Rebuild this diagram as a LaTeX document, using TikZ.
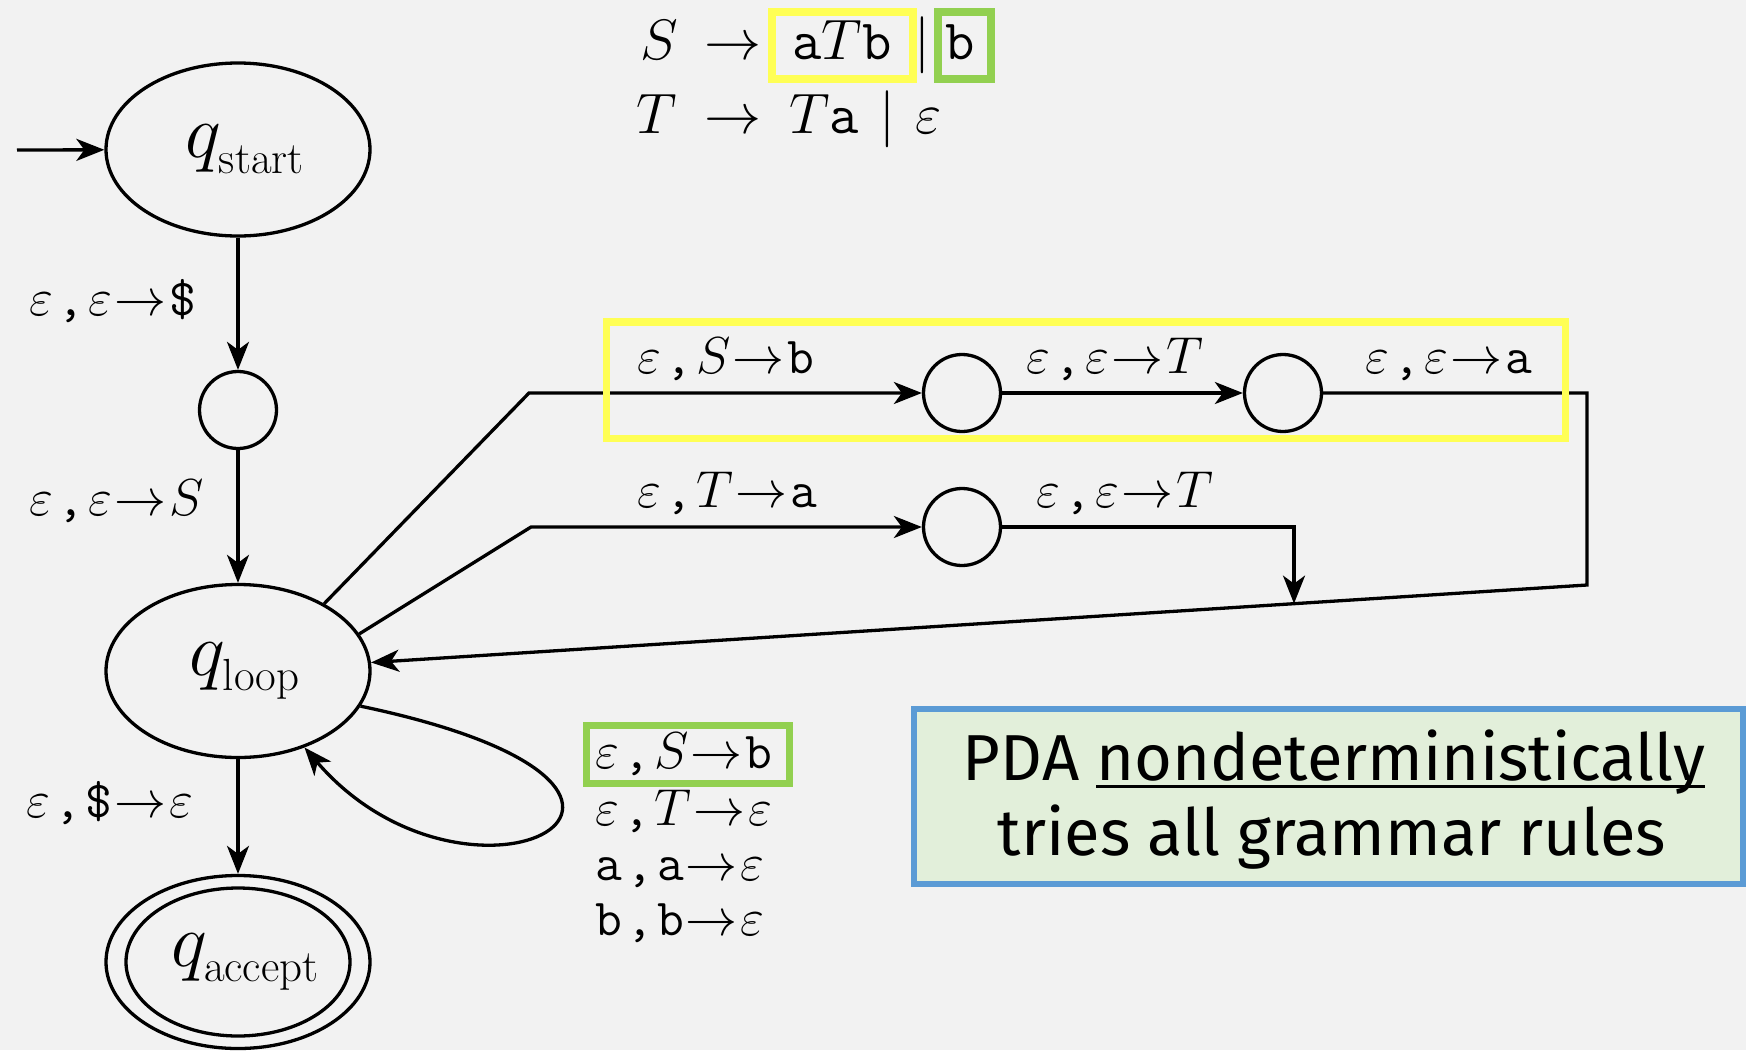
\RequirePackage{fix-cm}
\documentclass[tikz,border=0pt]{standalone}
\usepackage{fontspec}
\usetikzlibrary{arrows.meta,shapes.geometric}
\newfontfamily\notefont{Fira Sans}
\definecolor{bg}{RGB}{242,242,242}
\definecolor{hlyellow}{RGB}{255,255,85}
\definecolor{hlgreen}{RGB}{146,208,80}
\definecolor{noteblue}{RGB}{91,155,213}
\definecolor{notefill}{RGB}{226,239,218}

% transition label  input , pop -> push
\newcommand\trans[3]{#1\kern4pt\texttt{,}\kern4pt#2\kern2pt$\rightarrow$\kern3pt#3}
\newcommand\eps{$\varepsilon$}
% underlined word with the rule just below the baseline
\newcommand\ulword[1]{\setbox0\hbox{#1}\rlap{\rule[-7.5pt]{\wd0}{3pt}}\box0}
% state name q with a roman subscript
\newcommand\qstate[1]{\kern14pt\fontsize{76}{84}\selectfont$q_{\raisebox{-4pt}{\fontsize{45}{50}\selectfont #1}}$}

\begin{document}
\begin{tikzpicture}[x=1pt,y=-1pt,line width=3.3pt,
  >={Stealth[length=28pt,width=22pt,inset=8pt]},
  state/.style={draw,ellipse,minimum width=264pt,minimum height=173pt,inner sep=0pt},
  aux/.style={draw,circle,minimum size=77pt,inner sep=0pt},
  lbl/.style={inner sep=0pt,anchor=base west,font=\fontsize{52}{60}\selectfont},
  gram/.style={inner sep=0pt,anchor=base,font=\fontsize{57}{64}\selectfont},
  hl/.style={line width=7.5pt}]
\fill[bg] (0,0) rectangle (1746,1050);
\useasboundingbox (0,0) rectangle (1746,1050);

% grammar
\node[gram] (gS)  at (659,59)  {$S$};
\node[gram] (gA1) at (733,59)  {$\rightarrow$};
\node[gram] (gR1) at (842,59)  {\texttt{a}$T$\texttt{b}};
\node[gram] (gB1) at (922,59)  {$\mid$};
\node[gram] (gR2) at (960,59)  {\texttt{b}};
\node[gram] (gT)  at (657,133) {$T$};
\node[gram] (gA2) at (733,133) {$\rightarrow$};
\node[gram] (gR3) at (824,133) {$T$\texttt{a}};
\node[gram] (gB2) at (887,133) {$\mid$};
\node[gram] (gR4) at (929,133) {$\varepsilon$};

% states
\node[state] (qstart)  at (238,149.5) {\qstate{start}};
\node[aux]   (c1)      at (238,410) {};
\node[state] (qloop)   at (238,671) {\qstate{loop}};
\node[state] (qaccept) at (238,962) {\qstate{accept}};
\draw (qaccept.center) ellipse [x radius=112, y radius=74];

\node[aux] (cA) at (962,393) {};
\node[aux] (cB) at (1283,393) {};
\node[aux] (cC) at (962,527) {};

\coordinate (init) at (17,150);
\coordinate (k1) at (529,393);
\coordinate (k2) at (531,527);
\coordinate (k3) at (1587,393);
\coordinate (k4) at (1587,585);
\coordinate (k5) at (1294,527);

% transitions
\draw[->] (init) -- (qstart);
\draw[->] (qstart) -- (c1);
\draw[->] (c1) -- (qloop);
\draw[->] (qloop) -- (qaccept);
\draw[->] (qloop.38) -- (k1) -- (cA);
\draw[->] (cA) -- (cB);
\draw[->] (cB) -- (k3) -- (k4) -- (qloop);
\path (k4) -- (qloop) coordinate[pos=0.24] (m);
\draw[->] (qloop.17) -- (k2) -- (cC);
\draw[->] (cC) -- (k5) -- (k5 |- m);
\draw[->] (qloop.-16) .. controls (760,790) and (470,940) .. (qloop.-49);

% labels
\node[lbl] (l1) at (28,315)   {\trans{\eps}{\eps}{\texttt{\$}}};
\node[lbl] (l2) at (28,515)   {\trans{\eps}{\eps}{$S$}};
\node[lbl] (l3) at (25,817)   {\trans{\eps}{\texttt{\$}}{\eps}};
\node[lbl] (l4) at (636,373)  {\trans{\eps}{$S$}{\texttt{b}}};
\node[lbl] (l5) at (1025,373) {\trans{\eps}{\eps}{$T$}};
\node[lbl] (l6) at (1364,373) {\trans{\eps}{\eps}{\texttt{a}}};
\node[lbl] (l7) at (636,507)  {\trans{\eps}{$T$}{\texttt{a}}};
\node[lbl] (l8) at (1035,507) {\trans{\eps}{\eps}{$T$}};
\node[lbl] (r1) at (594,768)  {\trans{\eps}{$S$}{\texttt{b}}};
\node[lbl] (r2) at (594,825)  {\trans{\eps}{$T$}{\eps}};
\node[lbl] (r3) at (594,880)  {\trans{\texttt{a}}{\texttt{a}}{\eps}};
\node[lbl] (r4) at (594,935)  {\trans{\texttt{b}}{\texttt{b}}{\eps}};

% highlights
\draw[hl,hlyellow] (772,12) rectangle (913,79);
\draw[hl,hlgreen]  (938,12) rectangle (991,79);
\draw[hl,hlyellow] (606.5,322) rectangle (1565.5,438.5);
\draw[hl,hlgreen]  (586.5,725.5) rectangle (789.5,783.5);

% note
\draw[line width=5.5pt,draw=noteblue,fill=notefill] (914,709) rectangle (1743,884);
\node[anchor=base,inner sep=0pt,font=\notefont\fontsize{65}{75}\selectfont] (n1) at (1334,780) {PDA \ulword{nondeterministically}};
\node[anchor=base,inner sep=0pt,font=\notefont\fontsize{65}{75}\selectfont] (n2) at (1332,855) {tries all grammar rules};
\end{tikzpicture}
\end{document}
